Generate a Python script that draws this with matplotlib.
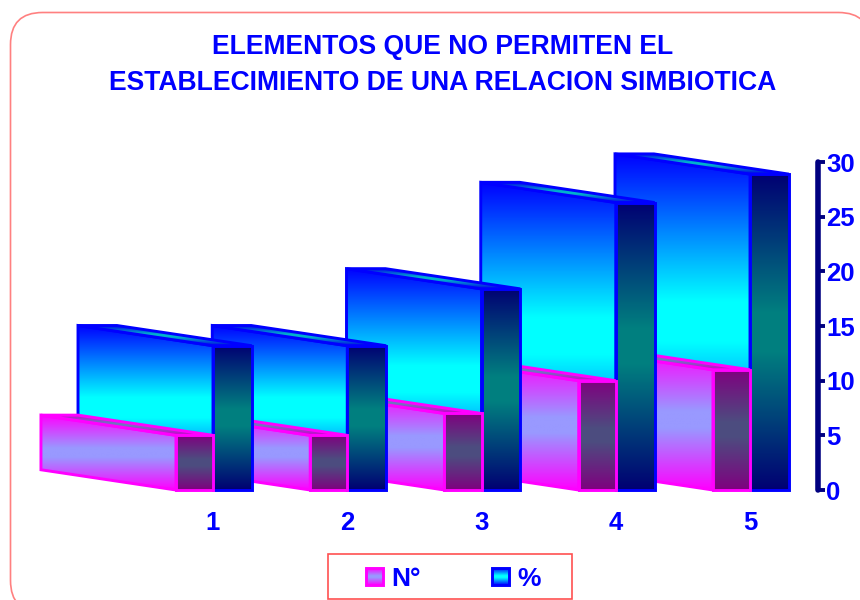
import numpy as np
import matplotlib
matplotlib.use('Agg')
import matplotlib.pyplot as plt
from matplotlib.patches import FancyBboxPatch, Polygon, Rectangle

categories = [1, 2, 3, 4, 5]
n_values = [5, 5, 7, 10, 11]
pct_values = [13.2, 13.2, 18.4, 26.3, 28.9]
series_names = ['N°', '%']
y_ticks = [0, 5, 10, 15, 20, 25, 30]
title_lines = ['ELEMENTOS QUE NO PERMITEN EL', 'ESTABLECIMIENTO DE UNA RELACION SIMBIOTICA']

plt.rcParams['font.family'] = ['Liberation Sans', 'DejaVu Sans']
BLUE = '#0000ff'
NAVY = '#000080'

fig = plt.figure(figsize=(8.6, 6), dpi=100)

# background layer in pixels, for the frame and the legend
bg = fig.add_axes([0, 0, 1, 1])
bg.set_xlim(0, 860)
bg.set_ylim(600, 0)
bg.axis('off')
bg.add_patch(FancyBboxPatch((10.5, 12.5), 860, 600, boxstyle='round,pad=0,rounding_size=32',
                            fc='white', ec='#ff8080', lw=1.2))

# one category = 134.25 px, one unit = 10.93 px, spine at x=818, zero at y=490
ax = fig.add_axes([0, (600 - 490) / 600, 818 / 860, 32 * 10.93 / 600])
ax.patch.set_alpha(0)
xmin = 1 - 213 / 134.25
xmax = 1 + (818 - 213) / 134.25
depth_x = 135 / 134.25
depth_y = 1.85
pink_w = 0.276
blue_w = 0.29


def face(axis, poly, edge, mid, z, line=None, y_range=None):
    # two colour gradient from the centre of the face, with a small flat band in the middle
    pts = np.array(poly)
    ylo, yhi = y_range if y_range else (pts[:, 1].min(), pts[:, 1].max())
    t = np.clip((np.abs(np.linspace(-1, 1, 256)) - 0.12) / 0.88, 0, 1)[:, None, None]
    img = np.array(edge)[None, None, :] * t + np.array(mid)[None, None, :] * (1 - t)
    im = axis.imshow(img, extent=[pts[:, 0].min(), pts[:, 0].max(), ylo, yhi],
                     origin='upper', aspect='auto', zorder=z)
    im.set_clip_path(Polygon(pts, closed=True, transform=axis.transData))
    axis.add_patch(Polygon(pts, closed=True, fc='none', ec=line or edge, lw=2.1, zorder=z + 0.5,
                           joinstyle='miter', clip_on=False))


def bar3d(left, right, top, edge, mid, top_edge, top_mid, front_edge, front_mid, z):
    side = [(left, 0), (left, top), (left - depth_x, top + depth_y), (left - depth_x, depth_y)]
    lid = [(left, top), (right, top), (right - depth_x, top + depth_y), (left - depth_x, top + depth_y)]
    front = [(left, 0), (left, top), (right, top), (right, 0)]
    face(ax, side, edge, mid, z, y_range=(0, top + depth_y))
    face(ax, lid, top_edge, top_mid, z + 1, line=edge)
    face(ax, front, front_edge, front_mid, z + 2, line=edge)


z = 1
for i in range(len(categories) - 1, -1, -1):
    c = categories[i]
    bar3d(c, c + blue_w, pct_values[i], (0, 0, 1), (0, 1, 1), (0, 0, 0.9), (0, 0.7, 0.8),
          (0, 0, 0.45), (0, 0.5, 0.5), z)
    z += 4
    bar3d(c - pink_w, c, n_values[i], (1, 0, 1), (0.6, 0.6, 1), (0.8, 0, 0.8), (0.45, 0.45, 0.75),
          (0.5, 0, 0.5), (0.3, 0.3, 0.5), z)
    z += 4

ax.set_xlim(xmin, xmax)
ax.set_ylim(0, 32)
for s in ['top', 'left', 'bottom']:
    ax.spines[s].set_visible(False)
ax.spines['right'].set_bounds(0, 30)
ax.spines['right'].set_linewidth(4)
ax.spines['right'].set_color(NAVY)
ax.spines['right'].set_capstyle('round')
ax.yaxis.tick_right()
ax.set_yticks(y_ticks)
ax.set_xticks(categories)
ax.tick_params(axis='y', length=5, width=2.8, color=NAVY, pad=1, labelsize=18.5, labelcolor=BLUE)
ax.tick_params(axis='x', length=0, pad=15, labelsize=18.5, labelcolor=BLUE)
for lab in ax.get_xticklabels() + ax.get_yticklabels():
    lab.set_fontweight('bold')

# title
fig.text(442.5 / 860, 1 - 47 / 600, title_lines[0], ha='center', va='center', color=BLUE,
         fontsize=19.1, fontweight='bold')
fig.text(442.5 / 860, 1 - 83 / 600, title_lines[1], ha='center', va='center', color=BLUE,
         fontsize=19.1, fontweight='bold')

# legend
bg.add_patch(Rectangle((327.5, 554), 244, 45, fc='white', ec='#ff5050', lw=1.2))
face(bg, [(366, 568), (383, 568), (383, 585), (366, 585)], (1, 0, 1), (0.6, 0.6, 1), 3)
face(bg, [(492, 568), (509, 568), (509, 585), (492, 585)], (0, 0, 1), (0, 1, 1), 3)
bg.text(391, 579, series_names[0], ha='left', va='center', color=BLUE, fontsize=19, fontweight='bold')
bg.text(517, 579, series_names[1], ha='left', va='center', color=BLUE, fontsize=19, fontweight='bold')
bg.set_xlim(0, 860)
bg.set_ylim(600, 0)

fig.savefig('out.png', dpi=100)
